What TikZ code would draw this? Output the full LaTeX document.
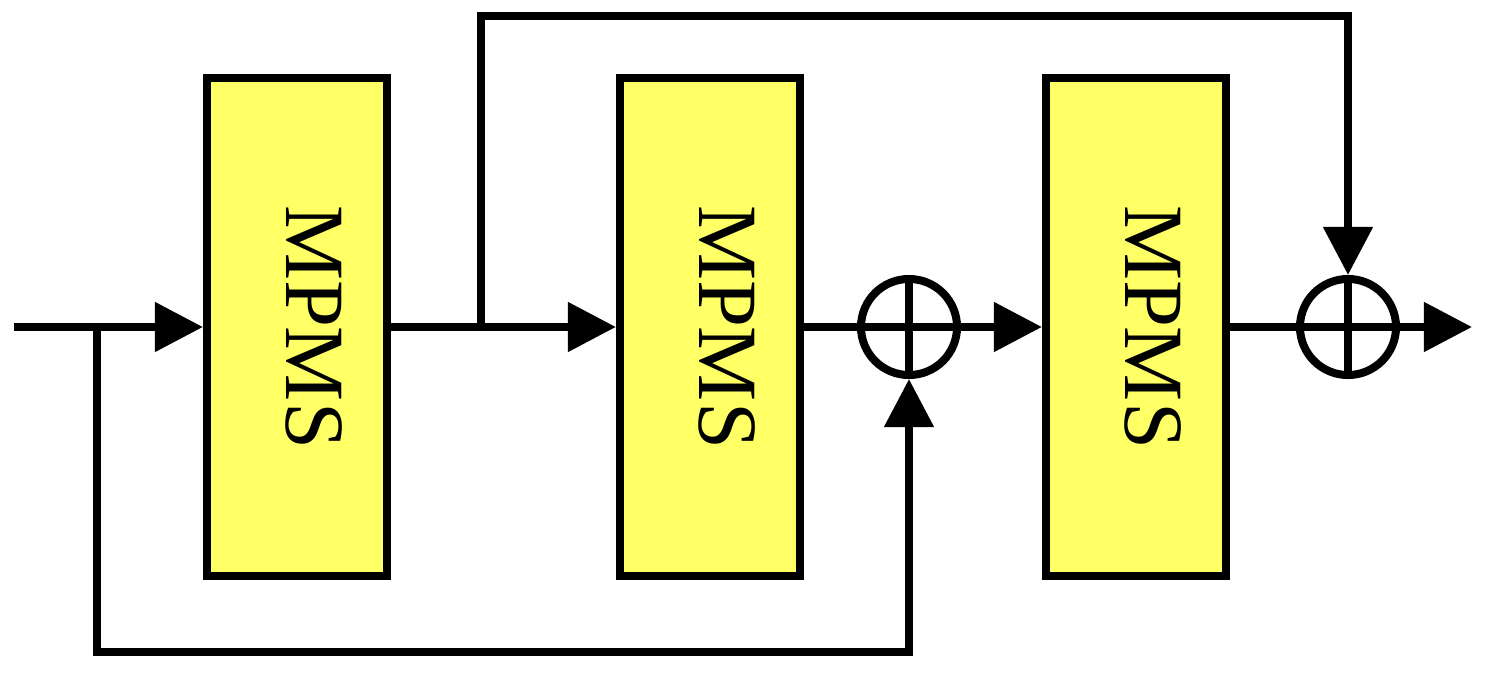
\documentclass[tikz,border=0pt]{standalone}
\usepackage{fontspec}
\setmainfont{Liberation Serif}
\usetikzlibrary{arrows.meta}
\definecolor{boxy}{RGB}{255,255,102}
\begin{document}
\begin{tikzpicture}[x=0.01cm,y=-0.01cm,
  every path/.style={line width=0.08cm},
  blk/.style={draw,fill=boxy,line width=0.08cm,minimum width=1.8cm,minimum height=4.97cm,inner sep=0pt},
  sum/.style={draw,circle,line width=0.08cm,minimum size=0.96cm,inner sep=0pt},
  arr/.style={-{Triangle[length=0.48cm,width=0.48cm]}},
  lbl/.style={rotate=-90,font=\fontsize{24}{24}\selectfont}]
\useasboundingbox (0,0) rectangle (1488,673);
\node[blk] (b1) at (297,327) {}; \node[lbl] at ([xshift=0.17cm]b1.center) {MPMS};
\node[blk] (b2) at (710,327) {}; \node[lbl] at ([xshift=0.17cm]b2.center) {MPMS};
\node[blk] (b3) at (1136,327) {}; \node[lbl] at ([xshift=0.17cm]b3.center) {MPMS};
\node[sum] (s1) at (909,327) {};
\node[sum] (s2) at (1348,327) {};
\draw (s1.north) -- (s1.south) (s1.west) -- (s1.east);
\draw (s2.north) -- (s2.south);
\coordinate (in) at (14,327);
\coordinate (out) at (1472,327);
\coordinate (t) at (481,327);
\coordinate (l) at (97,327);
\draw[arr] (in) -- (b1.west);
\draw[arr] (b1.east) -- (b2.west);
\draw (b2.east) -- (s1.west);
\draw[arr] (s1.east) -- (b3.west);
\draw[arr] (b3.east) -- (out);
\draw[arr] (t) |- (1348,16) -- (s2.north);
\draw[arr] (l) |- (909,652) -- (s1.south);
\end{tikzpicture}
\end{document}
